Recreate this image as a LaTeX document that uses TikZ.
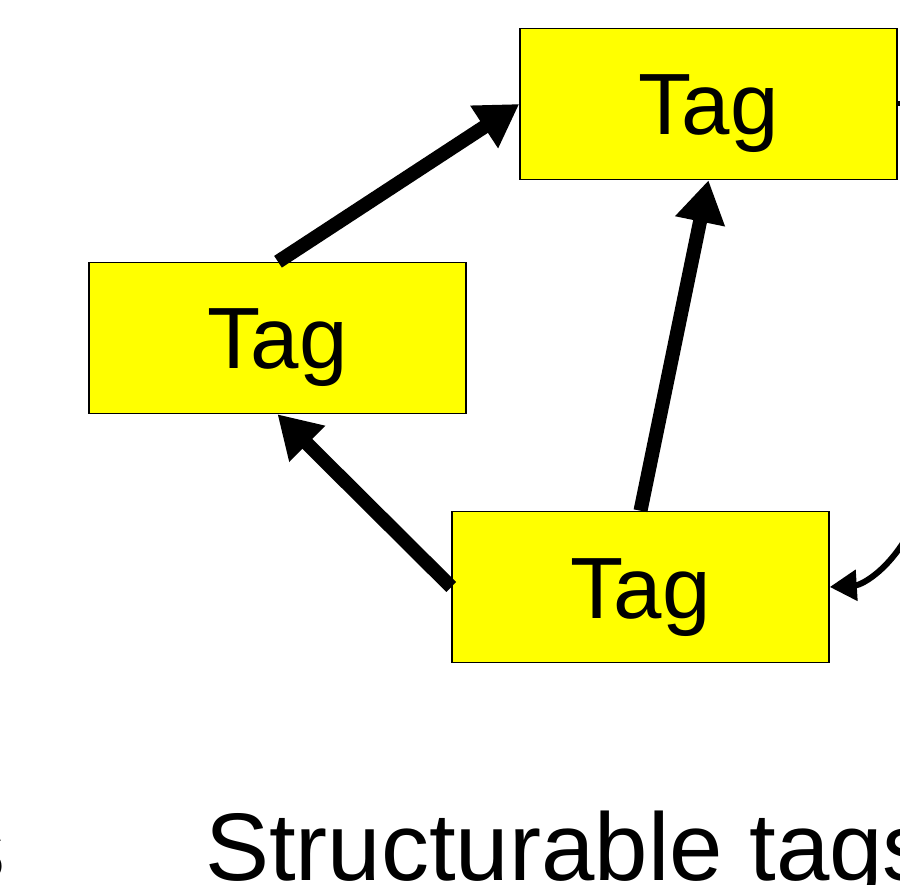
\documentclass[tikz,border=0pt]{standalone}
\usepackage{fontspec}
\setmainfont{Liberation Sans}
\usetikzlibrary{arrows.meta}
\definecolor{tagyellow}{RGB}{255,255,0}
\begin{document}
\begin{tikzpicture}[x=1pt,y=-1pt,
  tagbox/.style={draw=black,line width=1.5pt,fill=tagyellow,minimum width=377pt,minimum height=151pt,
    inner sep=0pt,text height=62pt,text depth=0pt,font=\fontsize{87}{87}\selectfont},
  bigarrow/.style={line width=14pt,-{Triangle[length=42pt,width=48pt]}},
  thinarrow/.style={line width=6pt,-{Triangle[length=27pt,width=30pt]}},
  caption/.style={font=\fontsize{96}{96}\selectfont,inner sep=0pt}]
\useasboundingbox (0,0) rectangle (900,885);
\clip (0,0) rectangle (900,885);
\node[tagbox] (top) at (708.5,104) {Tag};
\node[tagbox] (left) at (277.5,338) {Tag};
\node[tagbox] (bot) at (640.5,587) {Tag};
\coordinate (cstart) at (918,515);
\coordinate (stubend) at (915,104);
\draw[bigarrow] ([xshift=0.5pt]left.north) -- (top.west);
\draw[bigarrow] (bot.north) -- (top.south);
\draw[bigarrow] (bot.west) -- (left.south);
\draw[thinarrow] (cstart) .. controls (895,568) and (862,585) .. (bot.east);
\draw[line width=5pt] (top.east) -- (stubend);
\node[caption,anchor=base west] (cap) at (205,880) {Structurable tags};
\node[caption,anchor=base east] (capl) at (6,880) {s};
\end{tikzpicture}
\end{document}
